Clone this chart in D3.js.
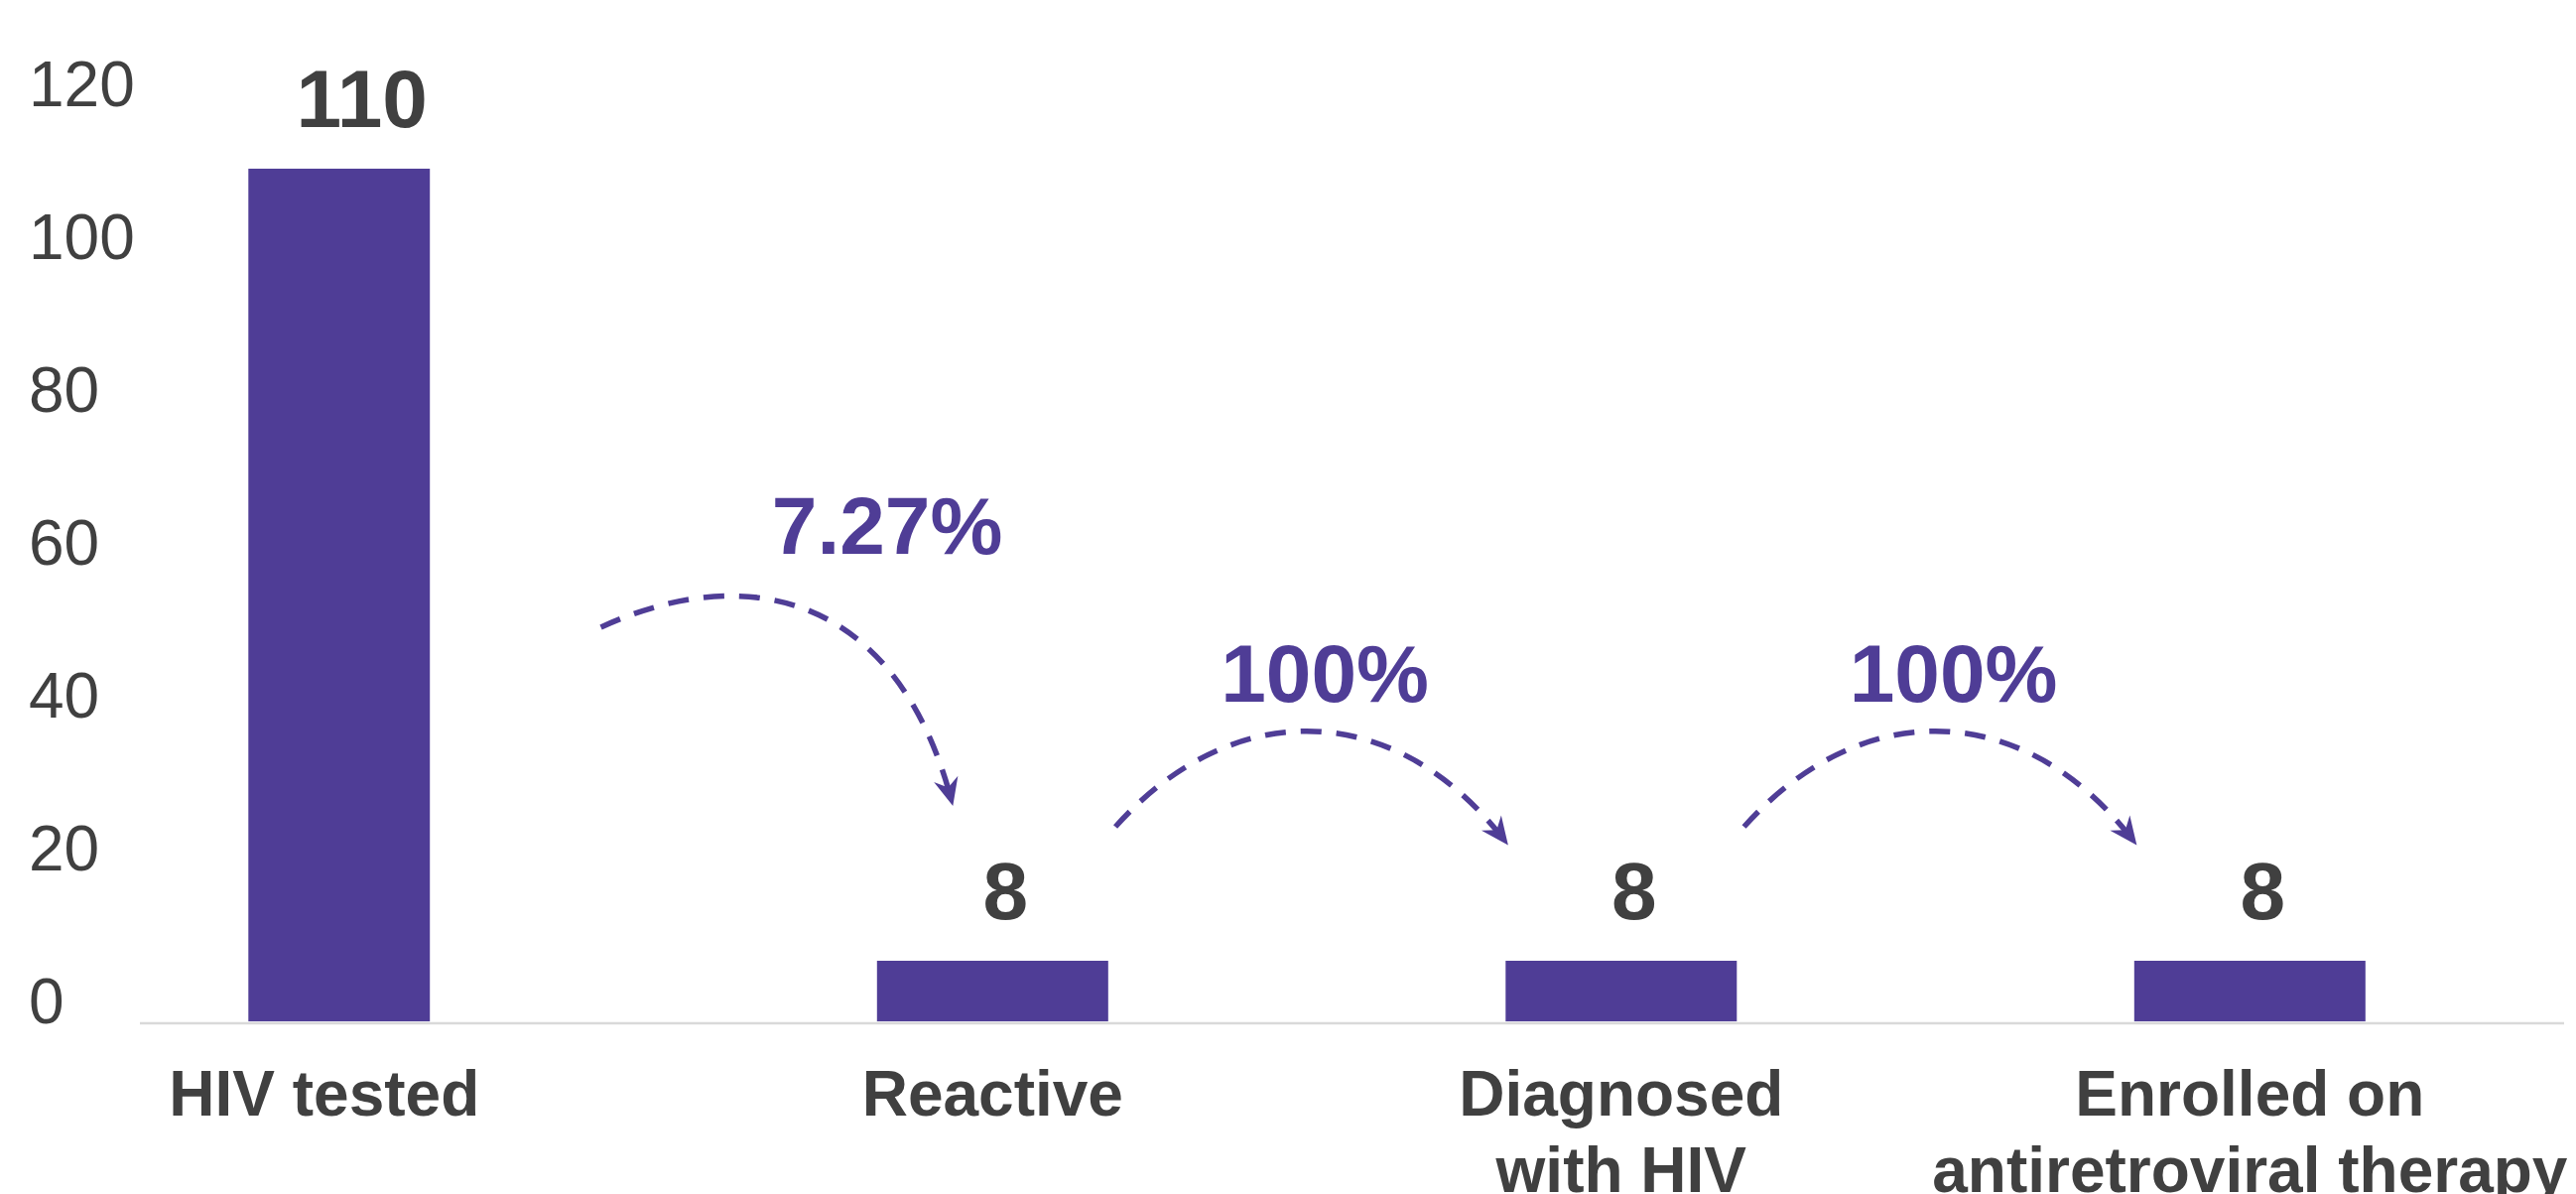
<!DOCTYPE html>
<html>
<head>
<meta charset="utf-8">
<script src="https://cdn.jsdelivr.net/npm/d3@7"></script>
<style>
  html, body { margin: 0; padding: 0; background: #ffffff; }
  svg { display: block; }
  text { font-family: "Liberation Sans", Arial, Helvetica, sans-serif; }
</style>
</head>
<body>
<svg id="chart" width="2596" height="1203"></svg>
<script>
// ---- data ----
const categories = ["HIV tested", "Reactive", "Diagnosed with HIV", "Enrolled on antiretroviral therapy"];
const categoryLines = [["HIV tested"], ["Reactive"], ["Diagnosed", "with HIV"], ["Enrolled on", "antiretroviral therapy"]];
const values = [110, 8, 8, 8];
const yTickValues = [0, 20, 40, 60, 80, 100, 120];

// ---- styles ----
const PURPLE = "#4f3d96";
const GREY_TEXT = "#404040";
const AXIS_GREY = "#d9d9d9";

const svg = d3.select("#chart");

const x = d3.scaleBand()
  .domain(categories)
  .range([250.3, 2383.8])
  .paddingInner(0.6322)
  .paddingOuter(0);

const y = d3.scaleLinear().domain([0, 120]).range([1030.6, 91.7]);
// tick labels sit slightly above their gridline positions in the original
const yTickScale = d3.scaleLinear().domain([0, 120]).range([1007, 83]);

const bw = x.bandwidth();
const barWidth = i => (i === 0 ? bw * 0.785 : bw);
const barX = (d, i) => x(categories[i]);
const barCenter = i => barX(null, i) + barWidth(i) / 2;

// ---- y axis labels ----
const yAxis = svg.append("g")
  .attr("transform", "translate(29,0)")
  .call(d3.axisLeft(yTickScale).tickValues(yTickValues).tickSize(0).tickFormat(d3.format("d")));
yAxis.select(".domain").remove();
yAxis.selectAll("text")
  .attr("x", 0)
  .attr("dy", "0.36em")
  .attr("text-anchor", "start")
  .attr("fill", GREY_TEXT)
  .style("font-size", "64px")
  .style("font-family", "'Liberation Sans', Arial, sans-serif");

// ---- bars ----
svg.append("g").selectAll("rect")
  .data(values)
  .join("rect")
  .attr("x", (d, i) => barX(d, i))
  .attr("width", (d, i) => barWidth(i))
  .attr("y", d => y(d))
  .attr("height", d => y(0) - y(d) - 1.5)
  .attr("fill", PURPLE);

// ---- baseline ----
svg.append("line")
  .attr("x1", 141).attr("x2", 2584)
  .attr("y1", y(0) + 0.5).attr("y2", y(0) + 0.5)
  .attr("stroke", AXIS_GREY)
  .attr("stroke-width", 2.5);

// ---- value labels ----
svg.append("g").selectAll("text")
  .data(values)
  .join("text")
  .attr("x", (d, i) => barCenter(i) + (i === 0 ? 23 : 13))
  .attr("y", d => y(d) - 42)
  .attr("text-anchor", "middle")
  .attr("fill", GREY_TEXT)
  .style("font-size", "82px")
  .style("font-weight", "bold")
  .text(d => d);

// ---- category labels ----
const labelX = i => barCenter(i) - (i === 0 ? 15 : 0);
const catG = svg.append("g").selectAll("text")
  .data(categoryLines)
  .join("text")
  .attr("x", (d, i) => labelX(i))
  .attr("y", 1124)
  .attr("text-anchor", "middle")
  .attr("fill", GREY_TEXT)
  .style("font-size", "64px")
  .style("font-weight", "bold");
catG.selectAll("tspan")
  .data((d, i) => d.map(t => ({ t, i })))
  .join("tspan")
  .attr("x", d => labelX(d.i))
  .attr("dy", (d, k) => (k === 0 ? 0 : 77))
  .text(d => d.t);

// ---- conversion arrows ----
const defs = svg.append("defs");
defs.append("marker")
  .attr("id", "head")
  .attr("markerUnits", "userSpaceOnUse")
  .attr("viewBox", "-30 -15 34 30")
  .attr("refX", 0).attr("refY", 0)
  .attr("markerWidth", 34).attr("markerHeight", 30)
  .attr("orient", "auto")
  .append("path")
  .attr("d", "M3,0 L-25,-12.5 L-16,0 L-25,12.5 Z")
  .attr("fill", PURPLE);

const fmtPct = v => (+v.toFixed(2)) + "%";
const transitions = d3.range(values.length - 1).map(i => ({
  i,
  label: fmtPct(values[i + 1] / values[i] * 100),
  m: (x(categories[i]) + x(categories[i + 1])) / 2 + bw / 2
}));

transitions.forEach(t => {
  const p = d3.path();
  let lx, ly;
  if (t.i === 0) {
    const m = t.m;
    p.moveTo(m - 78, 632);
    p.bezierCurveTo(m + 72, 563, m + 222, 601, m + 276, 809);
    lx = m + 210.5; ly = 558;
  } else {
    const c = t.m + 5;
    p.moveTo(c - 198, 833);
    p.bezierCurveTo(c - 81, 702, c + 84, 702, c + 196, 849);
    lx = t.m + 18; ly = 707;
  }
  svg.append("path")
    .attr("d", p.toString())
    .attr("fill", "none")
    .attr("stroke", PURPLE)
    .attr("stroke-width", 5.5)
    .attr("stroke-dasharray", "21,15")
    .attr("marker-end", "url(#head)");
  svg.append("text")
    .attr("x", lx)
    .attr("y", ly)
    .attr("text-anchor", "middle")
    .attr("fill", PURPLE)
    .style("font-size", "82px")
    .style("font-weight", "bold")
    .text(t.label);
});
</script>
</body>
</html>
